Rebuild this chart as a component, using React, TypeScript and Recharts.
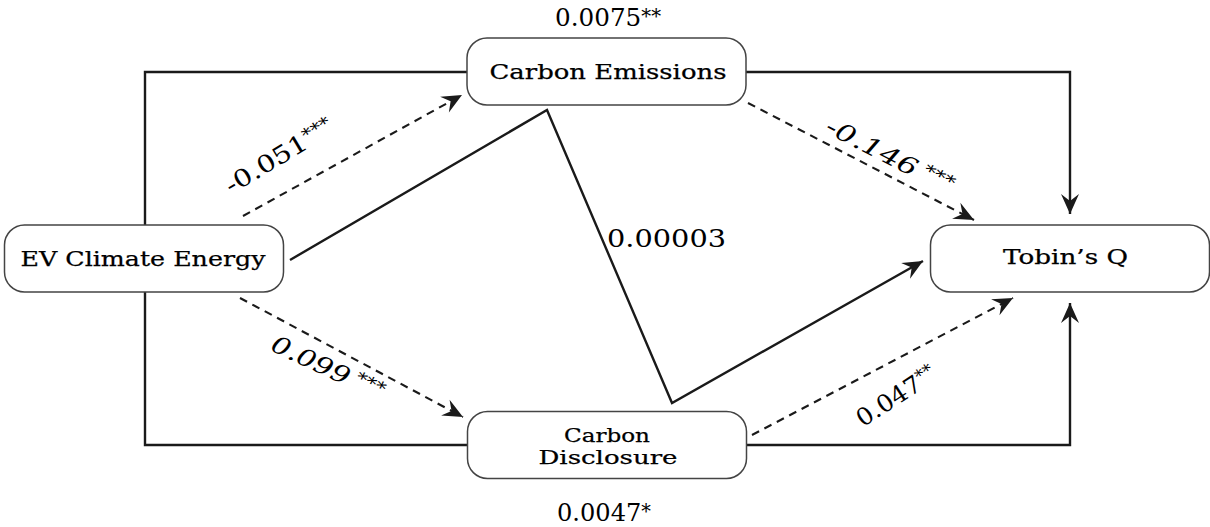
import { ComposedChart, Line, Scatter, XAxis, YAxis } from "recharts";

const W = 1210;
const H = 527;
const FONT = "'DejaVu Serif', 'Liberation Serif', serif";

// boxes of the path model (centre of each box, figure pixels)
const nodes = [
  { id: "emissions", x: 606.5, y: 71.5 },
  { id: "ev", x: 144, y: 258.5 },
  { id: "tobin", x: 1070, y: 258.5 },
  { id: "disclosure", x: 607, y: 445 },
];

// text inside the boxes: [text, dx from box centre, dy baseline, width, font size]
const nodeText: Record<string, [string, number, number, number, number][]> = {
  emissions: [["Carbon Emissions", 1.5, 7, 237, 21]],
  ev: [["EV Climate Energy", -1, 7, 245, 21]],
  tobin: [["Tobin\u2019s Q", -4.5, 5, 125, 21]],
  disclosure: [
    ["Carbon", 0, -3, 86, 19],
    ["Disclosure", 1, 19, 139, 19],
  ],
};

// paths between the boxes
const loopTop = [{ x: 145, y: 225 }, { x: 145, y: 72 }, { x: 467, y: 72 }];
const loopBottom = [{ x: 145, y: 292 }, { x: 145, y: 445 }, { x: 467, y: 445 }];
const emissionsToQ = [{ x: 746, y: 72 }, { x: 1070, y: 72 }, { x: 1070, y: 214 }];
const disclosureToQ = [{ x: 747, y: 445 }, { x: 1070, y: 445 }, { x: 1070, y: 303 }];
const zigzag = [{ x: 290, y: 260 }, { x: 547, y: 110 }, { x: 672, y: 403 }, { x: 923, y: 261 }];
const evToEmissions = [{ x: 243, y: 216 }, { x: 462, y: 95 }];
const emissionsToQDash = [{ x: 748, y: 103 }, { x: 974, y: 220 }];
const evToDisclosure = [{ x: 240, y: 298 }, { x: 463, y: 417 }];
const disclosureToQDash = [{ x: 752, y: 435 }, { x: 1013, y: 298 }];

// straight coefficient labels
const flatLabels = [
  { x: 555, y: 26, text: "0.0075", stars: "**", w: 106 },
  { x: 557, y: 521, text: "0.0047", stars: "*", w: 94 },
  { x: 607, y: 247, text: "0.00003", stars: "", w: 119 },
];

// coefficient labels along the dashed arrows
const slantLabels = [
  { x: 279, y: 156, text: "-0.051", stars: "***", angle: -31, w: 122, italic: false },
  { x: 890, y: 156, text: "-0.146", stars: " ***", angle: 27, w: 140, italic: true },
  { x: 328, y: 368, text: "0.099", stars: " ***", angle: 25, w: 122, italic: true },
  { x: 896, y: 396, text: "0.047", stars: "**", angle: -33, w: 90, italic: false },
];

const INK = "#1a1a1a";

function arrowDot(pts: { x: number; y: number }[]) {
  const n = pts.length;
  const a = pts[n - 2];
  const b = pts[n - 1];
  const ang = (Math.atan2(b.y - a.y, b.x - a.x) * 180) / Math.PI;
  return (p: any) => {
    if (p.index !== n - 1) return <g key={`d-${p.index}`} />;
    return (
      <path
        key={`d-${p.index}`}
        d="M0,0 L-20,-9 L-13,0 L-20,9 Z"
        fill={INK}
        transform={`translate(${p.cx},${p.cy}) rotate(${ang})`}
      />
    );
  };
}

const NodeShape = (props: any) => {
  const { cx, cy, payload } = props;
  const bw = 279;
  const bh = 67;
  return (
    <g>
      <rect
        x={cx - bw / 2}
        y={cy - bh / 2}
        width={bw}
        height={bh}
        rx={20}
        ry={20}
        fill="#fff"
        stroke="#444"
        strokeWidth={1.5}
      />
      {nodeText[payload.id].map(([t, dx, dy, w, fs]) => (
        <text
          key={t}
          x={cx + dx}
          y={cy + dy}
          textAnchor="middle"
          fontFamily={FONT}
          fontSize={fs}
          fill="#000"
          stroke="#000"
          strokeWidth={0.25}
          textLength={w}
          lengthAdjust="spacingAndGlyphs"
        >
          {t}
        </text>
      ))}
    </g>
  );
};

const FlatLabel = (props: any) => {
  const { cx, cy, payload } = props;
  return (
    <text
      x={cx}
      y={cy}
      fontFamily={FONT}
      fontSize={25}
      fill="#000"
      textLength={payload.w}
      lengthAdjust="spacingAndGlyphs"
    >
      {payload.text}
      {payload.stars && (
        <tspan fontSize={20} dy={-3}>
          {payload.stars}
        </tspan>
      )}
    </text>
  );
};

const SlantLabel = (props: any) => {
  const { cx, cy, payload } = props;
  return (
    <text
      x={cx}
      y={cy}
      dy="0.35em"
      textAnchor="middle"
      fontFamily={FONT}
      fontSize={24}
      fontStyle={payload.italic ? "italic" : "normal"}
      fill="#000"
      textLength={payload.w}
      lengthAdjust="spacingAndGlyphs"
      transform={`rotate(${payload.angle},${cx},${cy})`}
    >
      {payload.text}
      <tspan fontSize={17} dy={-7}>
        {payload.stars}
      </tspan>
    </text>
  );
};

const solid = { stroke: INK, strokeWidth: 2.4 };
const dashed = { stroke: INK, strokeWidth: 2.1, strokeDasharray: "8 6" };

export default function App() {
  const edges = [
    { pts: loopTop, style: solid, arrow: false },
    { pts: loopBottom, style: solid, arrow: false },
    { pts: emissionsToQ, style: solid, arrow: true },
    { pts: disclosureToQ, style: solid, arrow: true },
    { pts: zigzag, style: solid, arrow: true },
    { pts: evToEmissions, style: dashed, arrow: true },
    { pts: emissionsToQDash, style: dashed, arrow: true },
    { pts: evToDisclosure, style: dashed, arrow: true },
    { pts: disclosureToQDash, style: dashed, arrow: true },
  ];
  return (
    <div style={{ position: "absolute", left: 0, top: 0, width: W, height: H, background: "#fff" }}>
      <ComposedChart width={W} height={H} margin={{ top: 0, right: 0, bottom: 0, left: 0 }}>
        <XAxis type="number" dataKey="x" domain={[0, W]} hide allowDataOverflow />
        <YAxis type="number" dataKey="y" domain={[0, H]} reversed hide allowDataOverflow />
        {edges.map((e, i) => (
          <Line
            key={i}
            data={e.pts}
            dataKey="y"
            type="linear"
            {...e.style}
            strokeLinejoin="miter"
            dot={e.arrow ? arrowDot(e.pts) : false}
            activeDot={false}
            isAnimationActive={false}
          />
        ))}
        <Scatter data={nodes} shape={NodeShape} isAnimationActive={false} />
        <Scatter data={flatLabels} shape={FlatLabel} isAnimationActive={false} />
        <Scatter data={slantLabels} shape={SlantLabel} isAnimationActive={false} />
      </ComposedChart>
    </div>
  );
}
